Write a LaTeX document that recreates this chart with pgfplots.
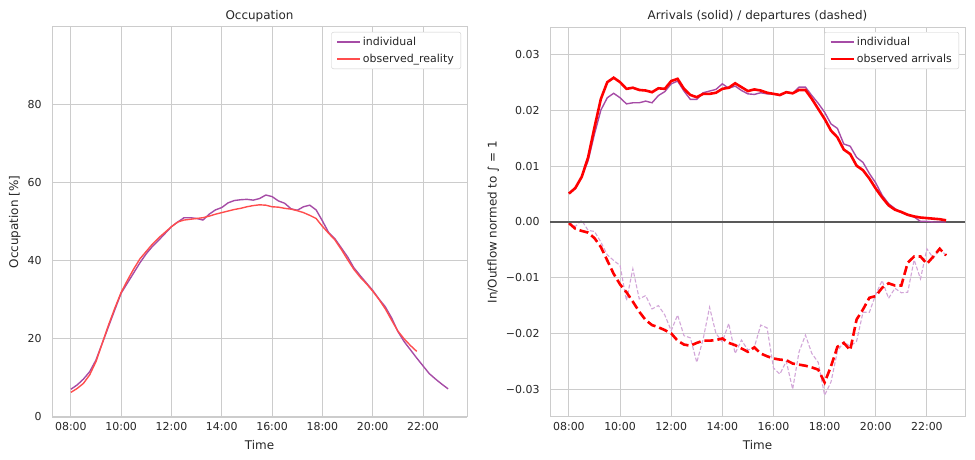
\documentclass[border=0pt]{standalone}
\usepackage{pgfplots}
\pgfplotsset{compat=1.18}
\usepackage{fontspec}
\setmainfont{DejaVu Sans}
\definecolor{txt}{HTML}{262626}
\definecolor{gridc}{HTML}{CCCCCC}
\definecolor{indiv}{HTML}{A64CA6}
\definecolor{indivlight}{HTML}{D2A6D8}
\definecolor{obsl}{HTML}{FF4D4D}
\definecolor{obsr}{HTML}{FF0000}
\pgfplotsset{
  mystyle/.style={
    scale only axis, width=415bp, height=390bp,
    anchor=south west,
    axis line style={gridc, line width=1bp},
    grid=major, major grid style={gridc, line width=0.9bp},
    major tick length=0pt,
    scaled y ticks=false,
    tick label style={font=\fontsize{11}{13}\selectfont, text=txt},
    label style={font=\fontsize{12}{14}\selectfont, text=txt},
    title style={font=\fontsize{12}{14}\selectfont, text=txt, yshift=-4bp},
    /pgf/number format/assume math mode=true,
    xtick={8,10,12,14,16,18,20,22},
    xticklabels={08:00,10:00,12:00,14:00,16:00,18:00,20:00,22:00},
    xticklabel style={yshift=-1.5bp},
    yticklabel style={xshift=-7bp},
    xlabel={Time},
    xlabel style={yshift=-3bp},
    legend style={at={(1,1)}, anchor=north east, xshift=-6bp, yshift=-5bp,
      draw=gridc, rounded corners=2bp, font=\fontsize{11}{13}\selectfont, text=txt,
      inner xsep=5bp, inner ysep=3bp, row sep=3bp},
    legend cell align=left,
    legend image code/.code={\draw[##1] (0bp,0bp) -- (23bp,0bp);},
  }
}
\begin{document}
\begin{tikzpicture}
\path[use as bounding box] (0,0) rectangle (975bp,460bp);
\begin{axis}[mystyle, at={(52bp,43bp)},
  xmin=7.25, xmax=23.75, ymin=0, ymax=99.8,
  ytick={0,20,40,60,80},
  title={Occupation},
  ylabel={Occupation [\%]},
]
\addplot[indiv, line width=1.4bp] coordinates {
(8.00,7.1) (8.25,8.2) (8.50,9.7) (8.75,11.6) (9.00,14.6) (9.25,18.9) (9.50,23.2) (9.75,27.5)
(10.00,31.7) (10.25,34.3) (10.50,36.9) (10.75,39.5) (11.00,41.8) (11.25,43.7) (11.50,45.3) (11.75,47.0)
(12.00,48.7) (12.25,49.9) (12.50,51.0) (12.75,51.0) (13.00,50.8) (13.25,50.4) (13.50,51.9) (13.75,53.0)
(14.00,53.6) (14.25,54.8) (14.50,55.4) (14.75,55.6) (15.00,55.7) (15.25,55.5) (15.50,55.9) (15.75,56.8)
(16.00,56.4) (16.25,55.3) (16.50,54.7) (16.75,53.3) (17.00,52.9) (17.25,53.8) (17.50,54.2) (17.75,53.0)
(18.00,50.2) (18.25,47.2) (18.50,45.6) (18.75,43.3) (19.00,41.0) (19.25,38.2) (19.50,36.2) (19.75,34.3)
(20.00,32.4) (20.25,30.2) (20.50,28.2) (20.75,25.4) (21.00,21.9) (21.25,19.3) (21.50,17.2) (21.75,15.1)
(22.00,13.1) (22.25,11.1) (22.50,9.7) (22.75,8.4) (23.00,7.2)
};
\addlegendentry{individual}
\addplot[obsl, line width=1.4bp] coordinates {
(8.00,6.3) (8.25,7.3) (8.50,8.6) (8.75,10.8) (9.00,14.2) (9.25,18.9) (9.50,23.6) (9.75,27.9)
(10.00,31.9) (10.25,35.0) (10.50,37.9) (10.75,40.5) (11.00,42.4) (11.25,44.3) (11.50,45.9) (11.75,47.3)
(12.00,48.7) (12.25,49.9) (12.50,50.4) (12.75,50.6) (13.00,50.8) (13.25,51.0) (13.50,51.4) (13.75,51.9)
(14.00,52.3) (14.25,52.7) (14.50,53.1) (14.75,53.4) (15.00,53.8) (15.25,54.1) (15.50,54.3) (15.75,54.2)
(16.00,53.8) (16.25,53.7) (16.50,53.4) (16.75,53.2) (17.00,52.8) (17.25,52.3) (17.50,51.6) (17.75,50.8)
(18.00,48.8) (18.25,47.0) (18.50,45.3) (18.75,42.9) (19.00,40.3) (19.25,37.8) (19.50,35.8) (19.75,34.1)
(20.00,32.2) (20.25,30.1) (20.50,27.7) (20.75,24.8) (21.00,22.0) (21.25,20.0) (21.50,18.3) (21.75,16.8)
};
\addlegendentry{observed\_reality}
\end{axis}

\begin{axis}[mystyle, at={(550bp,43bp)},
  xmin=7.26, xmax=23.49, ymin=-0.035, ymax=0.035,
  ytick={-0.03,-0.02,-0.01,0,0.01,0.02,0.03},
  yticklabels={−0.03,−0.02,−0.01,0.00,0.01,0.02,0.03},
  title={Arrivals (solid) / departures (dashed)},
  ylabel={In/Outflow normed to ∫ = 1},
]
% individual departures
\addplot[indivlight, line width=1.1bp, dash pattern=on 4bp off 2bp, forget plot] coordinates {
(8.00,-0.0001) (8.25,-0.0008) (8.50,0.0003) (8.75,-0.0015) (9.00,-0.0017) (9.25,-0.0036) (9.50,-0.0059) (9.75,-0.0069)
(10.00,-0.0078) (10.25,-0.0141) (10.50,-0.0084) (10.75,-0.0138) (11.00,-0.0132) (11.25,-0.0156) (11.50,-0.0150) (11.75,-0.0167)
(12.00,-0.0195) (12.25,-0.0167) (12.50,-0.0204) (12.75,-0.0208) (13.00,-0.0252) (13.25,-0.0210) (13.50,-0.0153) (13.75,-0.0200)
(14.00,-0.0215) (14.25,-0.0182) (14.50,-0.0236) (14.75,-0.0212) (15.00,-0.0230) (15.25,-0.0225) (15.50,-0.0185) (15.75,-0.0190)
(16.00,-0.0262) (16.25,-0.0273) (16.50,-0.0250) (16.75,-0.0300) (17.00,-0.0233) (17.25,-0.0203) (17.50,-0.0236) (17.75,-0.0252)
(18.00,-0.0311) (18.25,-0.0287) (18.50,-0.0232) (18.75,-0.0215) (19.00,-0.0223) (19.25,-0.0214) (19.50,-0.0162) (19.75,-0.0162)
(20.00,-0.0130) (20.25,-0.0105) (20.50,-0.0137) (20.75,-0.0119) (21.00,-0.0127) (21.25,-0.0126) (21.50,-0.0068) (21.75,-0.0102)
(22.00,-0.0048) (22.25,-0.0065) (22.50,-0.0048) (22.75,-0.0060)
};
% observed departures
\addplot[obsr, line width=2.6bp, dash pattern=on 9bp off 4bp, forget plot] coordinates {
(8.00,-0.0002) (8.25,-0.0012) (8.50,-0.0016) (8.75,-0.0019) (9.00,-0.0029) (9.25,-0.0045) (9.50,-0.0069) (9.75,-0.0093)
(10.00,-0.0112) (10.25,-0.0126) (10.50,-0.0143) (10.75,-0.0161) (11.00,-0.0176) (11.25,-0.0185) (11.50,-0.0189) (11.75,-0.0194)
(12.00,-0.0200) (12.25,-0.0213) (12.50,-0.0220) (12.75,-0.0222) (13.00,-0.0217) (13.25,-0.0213) (13.50,-0.0213) (13.75,-0.0212)
(14.00,-0.0209) (14.25,-0.0217) (14.50,-0.0221) (14.75,-0.0227) (15.00,-0.0233) (15.25,-0.0225) (15.50,-0.0236) (15.75,-0.0241)
(16.00,-0.0245) (16.25,-0.0247) (16.50,-0.0248) (16.75,-0.0254) (17.00,-0.0256) (17.25,-0.0258) (17.50,-0.0261) (17.75,-0.0265)
(18.00,-0.0288) (18.25,-0.0259) (18.50,-0.0224) (18.75,-0.0217) (19.00,-0.0230) (19.25,-0.0175) (19.50,-0.0157) (19.75,-0.0136)
(20.00,-0.0133) (20.25,-0.0118) (20.50,-0.0110) (20.75,-0.0114) (21.00,-0.0114) (21.25,-0.0073) (21.50,-0.0062) (21.75,-0.0062)
(22.00,-0.0075) (22.25,-0.0062) (22.50,-0.0048) (22.75,-0.0060)
};
% zero line
\addplot[black!65, line width=1.2bp, forget plot] coordinates {(7.26,0) (23.49,0)};
% individual arrivals
\addplot[indiv, line width=1.4bp] coordinates {
(8.00,0.0051) (8.25,0.0060) (8.50,0.0081) (8.75,0.0110) (9.00,0.0158) (9.25,0.0201) (9.50,0.0223) (9.75,0.0231)
(10.00,0.0223) (10.25,0.0212) (10.50,0.0214) (10.75,0.0214) (11.00,0.0217) (11.25,0.0214) (11.50,0.0227) (11.75,0.0234)
(12.00,0.0248) (12.25,0.0253) (12.50,0.0235) (12.75,0.0220) (13.00,0.0220) (13.25,0.0232) (13.50,0.0235) (13.75,0.0238)
(14.00,0.0248) (14.25,0.0240) (14.50,0.0244) (14.75,0.0236) (15.00,0.0230) (15.25,0.0229) (15.50,0.0232) (15.75,0.0230)
(16.00,0.0230) (16.25,0.0227) (16.50,0.0233) (16.75,0.0231) (17.00,0.0242) (17.25,0.0242) (17.50,0.0227) (17.75,0.0213)
(18.00,0.0197) (18.25,0.0176) (18.50,0.0168) (18.75,0.0140) (19.00,0.0136) (19.25,0.0116) (19.50,0.0107) (19.75,0.0087)
(20.00,0.0070) (20.25,0.0048) (20.50,0.0033) (20.75,0.0024) (21.00,0.0017) (21.25,0.0012) (21.50,0.0009) (21.75,0.0001)
(22.00,0.0001) (22.25,0.0000) (22.50,0.0000) (22.75,0.0000)
};
\addlegendentry{individual}
\addplot[obsr, line width=2.6bp] coordinates {
(8.00,0.0051) (8.25,0.0061) (8.50,0.0081) (8.75,0.0116) (9.00,0.0170) (9.25,0.0221) (9.50,0.0251) (9.75,0.0259)
(10.00,0.0251) (10.25,0.0239) (10.50,0.0241) (10.75,0.0237) (11.00,0.0236) (11.25,0.0233) (11.50,0.0240) (11.75,0.0239)
(12.00,0.0253) (12.25,0.0257) (12.50,0.0239) (12.75,0.0228) (13.00,0.0224) (13.25,0.0230) (13.50,0.0230) (13.75,0.0232)
(14.00,0.0239) (14.25,0.0241) (14.50,0.0249) (14.75,0.0242) (15.00,0.0235) (15.25,0.0238) (15.50,0.0236) (15.75,0.0232)
(16.00,0.0230) (16.25,0.0228) (16.50,0.0233) (16.75,0.0231) (17.00,0.0237) (17.25,0.0237) (17.50,0.0221) (17.75,0.0203)
(18.00,0.0185) (18.25,0.0164) (18.50,0.0152) (18.75,0.0130) (19.00,0.0122) (19.25,0.0101) (19.50,0.0093) (19.75,0.0078)
(20.00,0.0060) (20.25,0.0044) (20.50,0.0030) (20.75,0.0022) (21.00,0.0018) (21.25,0.0013) (21.50,0.0010) (21.75,0.0008)
(22.00,0.0007) (22.25,0.0006) (22.50,0.0005) (22.75,0.0003)
};
\addlegendentry{observed arrivals}
\end{axis}
\end{tikzpicture}
\end{document}
